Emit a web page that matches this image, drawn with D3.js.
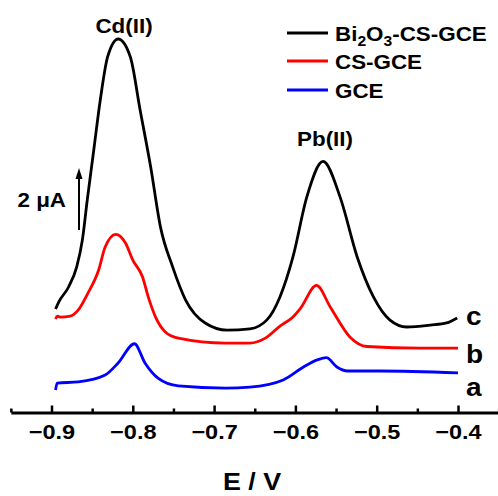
<!DOCTYPE html>
<html>
<head>
<meta charset="UTF-8">
<script src="https://d3js.org/d3.v7.min.js"></script>
<style>
  body { margin: 0; background: #fff; }
  svg { display: block; }
  text { font-family: "Liberation Sans", Arial, sans-serif; font-weight: bold; fill: #000; }
</style>
</head>
<body>
<svg id="chart" width="498" height="496"></svg>
<script>
// stripping voltammograms: [E (V), current (uA, arbitrary offset)]
const curveC = [[-0.895, 3.29], [-0.891, 3.52], [-0.879, 4.00], [-0.869, 4.65], [-0.862, 5.52], [-0.856, 6.81],
  [-0.848, 8.42], [-0.840, 10.03], [-0.831, 11.42], [-0.818, 12.0], [-0.803, 11.42], [-0.791, 9.71],
  [-0.778, 7.87], [-0.766, 5.94], [-0.751, 4.65], [-0.735, 3.58], [-0.711, 2.84], [-0.684, 2.61],
  [-0.656, 2.65], [-0.635, 2.94], [-0.619, 3.68], [-0.603, 4.97], [-0.586, 6.90], [-0.566, 8.05],
  [-0.545, 6.90], [-0.524, 4.97], [-0.504, 3.68], [-0.484, 2.94], [-0.463, 2.71], [-0.434, 2.77],
  [-0.414, 2.84], [-0.401, 3.00]];
const curveB = [[-0.895, 2.97], [-0.893, 3.06], [-0.889, 3.03], [-0.877, 3.06], [-0.867, 3.26], [-0.855, 3.81],
  [-0.842, 4.55], [-0.834, 5.29], [-0.821, 5.70], [-0.809, 5.42], [-0.800, 4.87], [-0.788, 4.32],
  [-0.781, 3.68], [-0.772, 3.03], [-0.760, 2.55], [-0.744, 2.35], [-0.686, 2.19], [-0.656, 2.19],
  [-0.637, 2.35], [-0.619, 2.74], [-0.603, 3.03], [-0.594, 3.30], [-0.574, 4.05], [-0.557, 3.35],
  [-0.533, 2.39], [-0.512, 2.08], [-0.447, 2.03], [-0.400, 2.03]];
const curveA = [[-0.895, 0.68], [-0.893, 0.90], [-0.867, 0.94], [-0.834, 1.16], [-0.818, 1.55], [-0.798, 2.17],
  [-0.785, 1.55], [-0.769, 1.06], [-0.744, 0.81], [-0.686, 0.74], [-0.656, 0.77], [-0.615, 1.00],
  [-0.590, 1.42], [-0.573, 1.65], [-0.562, 1.72], [-0.549, 1.42], [-0.536, 1.29], [-0.496, 1.29],
  [-0.400, 1.23]];

const seriesNames = ["Bi\u2082O\u2083-CS-GCE", "CS-GCE", "GCE"];
const seriesColors = ["#000000", "#ff0000", "#0000ff"];
const curveLetters = ["c", "b", "a"];
const xTicks = [-0.9, -0.8, -0.7, -0.6, -0.5, -0.4];
const xMinorTicks = [-0.95, -0.85, -0.75, -0.65, -0.55, -0.45, -0.35];
const scaleBarUA = 2;

const sx = 1.12; // glyphs in the figure are a bit wide
const svg = d3.select("#chart");

const x = d3.scaleLinear().domain([-0.95, -0.35]).range([10.85, 498.65]);
const y = d3.scaleLinear().domain([0, 2]).range([411, 349]);
const axisY = 412.5;

// axis
const minor = svg.append("g").attr("transform", `translate(0,${axisY})`)
  .call(d3.axisBottom(x).tickValues(xMinorTicks).tickSizeInner(-4).tickSizeOuter(0).tickFormat(""));
minor.select(".domain").attr("stroke-width", 3);
minor.selectAll(".tick line").attr("stroke-width", 2.5);

const major = svg.append("g").attr("transform", `translate(0,${axisY})`)
  .call(d3.axisBottom(x).tickValues(xTicks).tickSizeInner(-7).tickSizeOuter(0).tickPadding(12)
    .tickFormat(d3.format(".1f")));
major.select(".domain").remove();
major.selectAll(".tick line").attr("stroke-width", 2.5);
major.selectAll(".tick text").attr("font-size", 21).attr("font-family", null)
  .attr("transform", `scale(${sx},1)`);

function label(px, py, str, size, anchor) {
  return svg.append("text")
    .attr("transform", `translate(${px},${py}) scale(${sx},1)`)
    .attr("text-anchor", anchor || "start")
    .attr("font-size", size)
    .text(str);
}

label(252, 490, "E / V", 24, "middle");

// curves
const line = d3.line().x(d => x(d[0])).y(d => y(d[1])).curve(d3.curveMonotoneX);
[curveC, curveB, curveA].forEach((c, i) => {
  svg.append("path").datum(c)
    .attr("d", line)
    .attr("fill", "none")
    .attr("stroke", seriesColors[i])
    .attr("stroke-width", 2.8)
    .attr("stroke-linejoin", "round");
});

// curve letters
label(466, 325, curveLetters[0], 25);
label(466, 363, curveLetters[1], 25);
label(466, 396, curveLetters[2], 25);

// peak labels
label(124, 33, "Cd(II)", 20, "middle");
label(325, 146, "Pb(II)", 20, "middle");

// scale bar
const barBase = 5.84;
svg.append("line")
  .attr("x1", 79).attr("x2", 79)
  .attr("y1", y(barBase)).attr("y2", y(barBase + scaleBarUA) + 8)
  .attr("stroke", "#000").attr("stroke-width", 2);
svg.append("path")
  .attr("d", `M79,${y(barBase + scaleBarUA)} L75.5,${y(barBase + scaleBarUA) + 11} L82.5,${y(barBase + scaleBarUA) + 11} Z`)
  .attr("fill", "#000");
label(66, 207, "2 \u03bcA", 20, "end");

// legend
const legendY = [33, 61, 90];
seriesNames.forEach((n, i) => {
  svg.append("line")
    .attr("x1", 287).attr("x2", 328)
    .attr("y1", legendY[i]).attr("y2", legendY[i])
    .attr("stroke", seriesColors[i]).attr("stroke-width", 3);
});
const t0 = label(335, legendY[0] + 8, "", 20);
t0.append("tspan").text("Bi");
t0.append("tspan").attr("font-size", 14).attr("dy", 5).text("2");
t0.append("tspan").attr("dy", -5).text("O");
t0.append("tspan").attr("font-size", 14).attr("dy", 5).text("3");
t0.append("tspan").attr("dy", -5).text("-CS-GCE");
label(335, legendY[1] + 8, seriesNames[1], 20);
label(335, legendY[2] + 8, seriesNames[2], 20);
</script>
</body>
</html>
